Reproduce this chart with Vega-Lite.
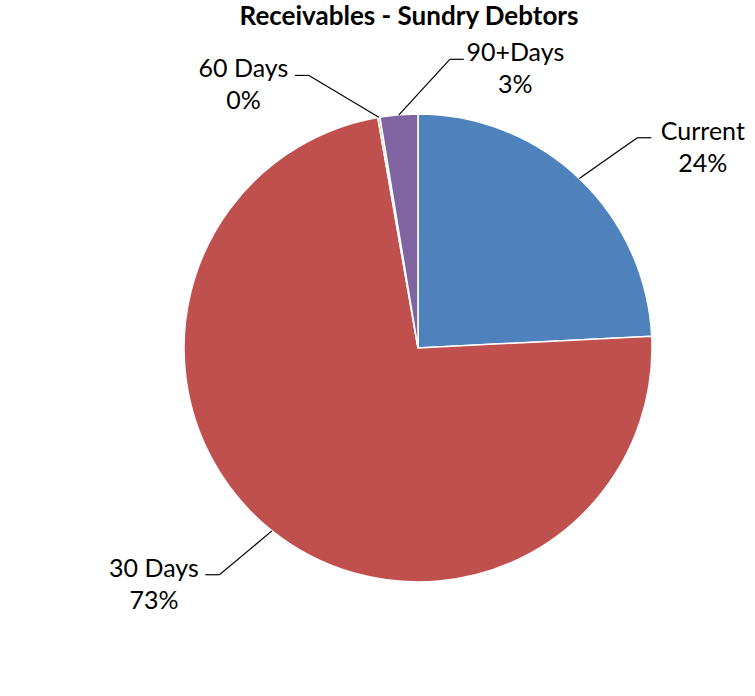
{
  "$schema": "https://vega.github.io/schema/vega-lite/v6.json",
  "width": 674,
  "height": 636,
  "autosize": {"type": "none"},
  "padding": {"top": 30, "left": 81, "right": 0, "bottom": 30},
  "background": "white",
  "title": {"text": "Receivables - Sundry Debtors", "font": "Lato", "fontSize": 26, "fontWeight": "bold", "color": "black", "anchor": "middle", "dx": -9, "offset": 0},
  "config": {"view": {"stroke": null}},
  "data": {"values": [
    {"cat": "Current", "value": 24.2, "rank": 1},
    {"cat": "30 Days", "value": 73.05, "rank": 2},
    {"cat": "60 Days", "value": 0.15, "rank": 3},
    {"cat": "90+Days", "value": 2.6, "rank": 4}
  ]},
  "transform": [
    {"joinaggregate": [{"op": "sum", "field": "value", "as": "total"}]},
    {"window": [{"op": "sum", "field": "value", "as": "cum"}], "sort": [{"field": "rank", "order": "ascending"}], "frame": [null, 0]},
    {"calculate": "2 * PI * (datum.cum - datum.value / 2) / datum.total", "as": "mid"},
    {"window": [{"op": "lag", "field": "mid", "as": "prevMid"}, {"op": "lead", "field": "mid", "as": "nextMid"}], "sort": [{"field": "rank", "order": "ascending"}]},
    {"joinaggregate": [{"op": "min", "field": "mid", "as": "minMid"}, {"op": "max", "field": "mid", "as": "maxMid"}]},
    {"calculate": "datum.prevMid == null ? datum.maxMid - 2 * PI : datum.prevMid", "as": "pm"},
    {"calculate": "datum.nextMid == null ? datum.minMid + 2 * PI : datum.nextMid", "as": "nm"},
    {"calculate": "datum.mid + (datum.mid - datum.pm < 0.45 ? (0.45 - (datum.mid - datum.pm)) / 2 : 0) - (datum.nm - datum.mid < 0.45 ? (0.45 - (datum.nm - datum.mid)) / 2 : 0)", "as": "la"},
    {"calculate": "sin(datum.mid)", "as": "ex"},
    {"calculate": "cos(datum.mid)", "as": "ey"},
    {"calculate": "1.36 * sin(datum.la)", "as": "lx"},
    {"calculate": "1.24 * cos(datum.la)", "as": "ly"},
    {"calculate": "sin(datum.la) >= 0 ? 1 : -1", "as": "sg"},
    {"calculate": "datum.lx + datum.sg * 0.06", "as": "hx"},
    {"calculate": "datum.hx + datum.sg * 0.22", "as": "tx"},
    {"calculate": "datum.cat + '\\n' + format(datum.value / datum.total, '.0%')", "as": "label"}
  ],
  "layer": [
    {
      "mark": {"type": "arc", "outerRadius": 234, "stroke": "white", "strokeWidth": 1.5},
      "encoding": {
        "theta": {"field": "value", "type": "quantitative", "stack": true},
        "order": {"field": "rank", "type": "quantitative"},
        "color": {"field": "cat", "type": "nominal", "scale": {"domain": ["Current", "30 Days", "60 Days", "90+Days"], "range": ["#4F81BD", "#C0504D", "#9BBB59", "#8064A2"]}, "legend": null}
      }
    },
    {
      "mark": {"type": "rule", "color": "black", "strokeWidth": 1.2},
      "encoding": {
        "x": {"field": "ex", "type": "quantitative", "scale": {"domain": [-1.4402, 1.4402], "nice": false, "zero": false}, "axis": null},
        "y": {"field": "ey", "type": "quantitative", "scale": {"domain": [-1.359, 1.359], "nice": false, "zero": false}, "axis": null},
        "x2": {"field": "lx"},
        "y2": {"field": "ly"}
      }
    },
    {
      "mark": {"type": "rule", "color": "black", "strokeWidth": 1.2},
      "encoding": {
        "x": {"field": "lx", "type": "quantitative"},
        "y": {"field": "ly", "type": "quantitative"},
        "x2": {"field": "hx"},
        "y2": {"field": "ly"}
      }
    },
    {
      "mark": {"type": "text", "font": "Lato", "fontSize": 25, "color": "black", "align": "center", "baseline": "alphabetic", "lineBreak": "\n", "lineHeight": 32, "dy": 2},
      "encoding": {
        "x": {"field": "tx", "type": "quantitative"},
        "y": {"field": "ly", "type": "quantitative"},
        "text": {"field": "label"}
      }
    }
  ]
}
